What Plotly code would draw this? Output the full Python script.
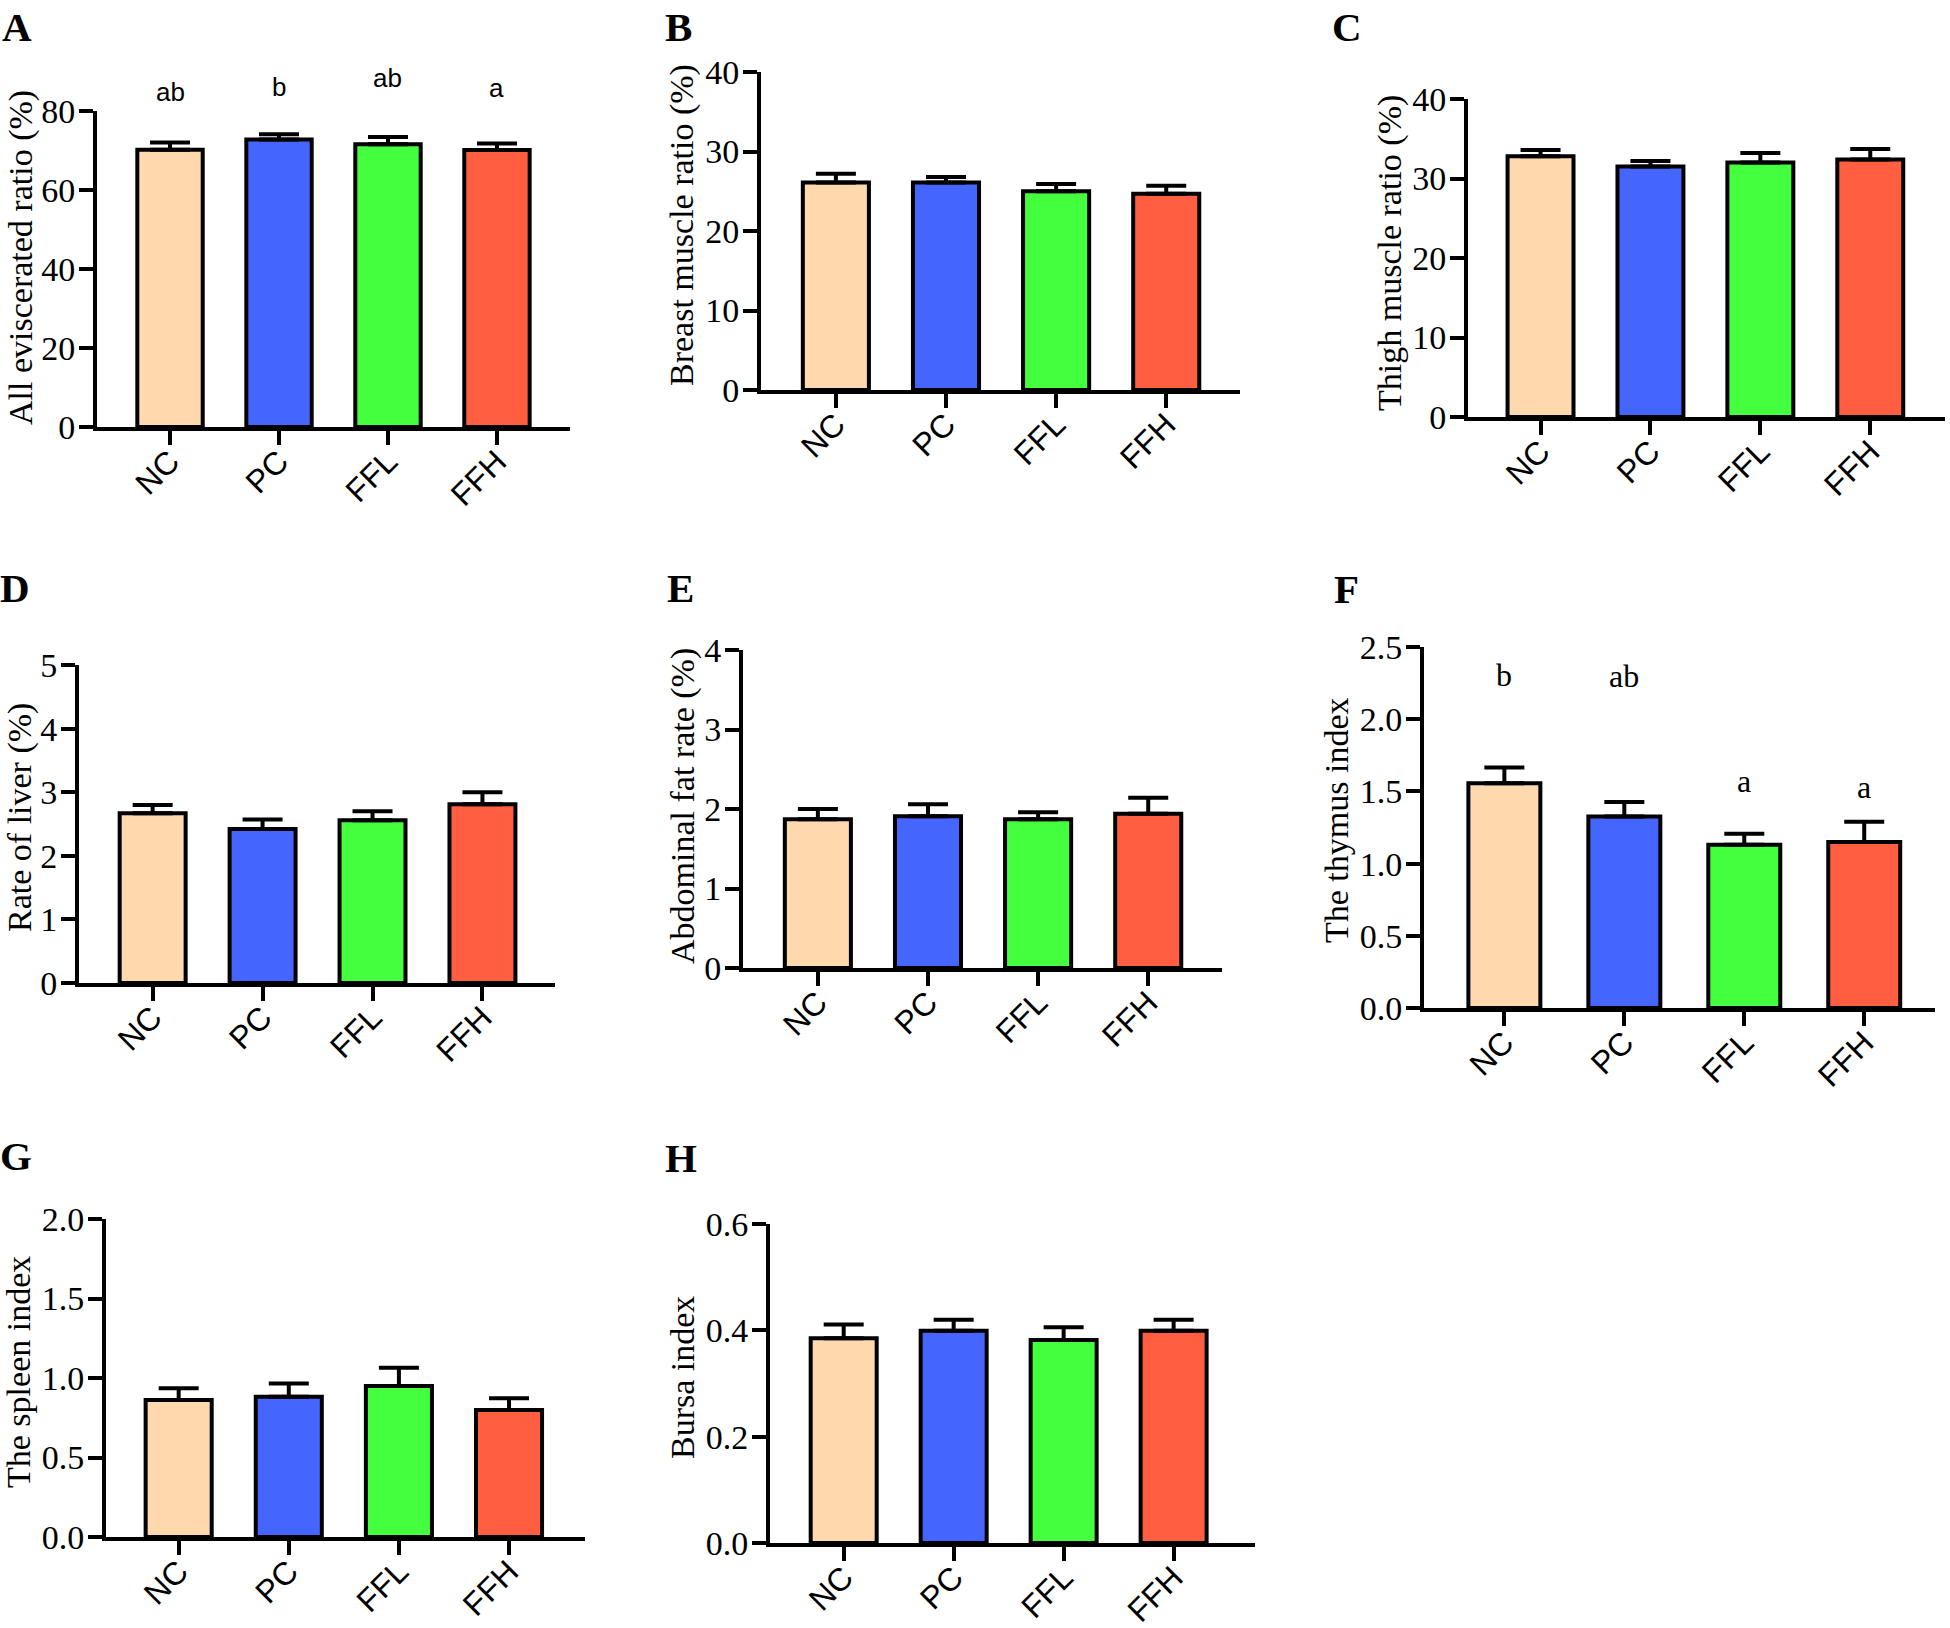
import plotly.graph_objects as go

# ---------------- data ----------------
groups = ["NC", "PC", "FFL", "FFH"]
bar_colors = ["#FED9AE", "#4466FF", "#44FF3E", "#FF5E40"]

eviscerated = [70.2, 72.8, 71.6, 70.1]
eviscerated_se = [1.8, 1.3, 1.8, 1.7]
eviscerated_letters = ["ab", "b", "ab", "a"]
eviscerated_letter_y = [84.8, 86.0, 88.4, 85.8]

breast = [26.1, 26.1, 25.0, 24.7]
breast_se = [1.1, 0.7, 0.9, 1.0]

thigh = [32.8, 31.5, 32.0, 32.4]
thigh_se = [0.8, 0.7, 1.2, 1.3]

liver = [2.67, 2.42, 2.56, 2.81]
liver_se = [0.13, 0.15, 0.14, 0.19]

abdominal_fat = [1.87, 1.91, 1.87, 1.94]
abdominal_fat_se = [0.13, 0.15, 0.09, 0.20]

thymus = [1.556, 1.327, 1.131, 1.149]
thymus_se = [0.11, 0.10, 0.075, 0.14]
thymus_letters = ["b", "ab", "a", "a"]
thymus_letter_y = [2.305, 2.30, 1.57, 1.53]

spleen = [0.861, 0.882, 0.950, 0.798]
spleen_se = [0.074, 0.084, 0.115, 0.074]

bursa = [0.385, 0.399, 0.382, 0.399]
bursa_se = [0.026, 0.021, 0.024, 0.021]

# ---------------- layout ----------------
W, H = 1950, 1628
SERIF = "Liberation Serif, Times New Roman, serif"
SANS = "Liberation Sans, Arial, sans-serif"

panels = [
    dict(tag="A", v=eviscerated, e=eviscerated_se, title="All eviscerated ratio (%)",
         ymax=80, dtick=20, fmt="d", box=(97, 570, 111, 427), xr=(-0.67, 3.67),
         tpos=(21, 258), lpos=(0, 27), letters=eviscerated_letters,
         letter_y=eviscerated_letter_y, lfont=dict(family=SANS, size=26, color="black")),
    dict(tag="B", v=breast, e=breast_se, title="Breast muscle ratio (%)",
         ymax=40, dtick=10, fmt="d", box=(761, 1240, 72, 390), xr=(-0.68, 3.67),
         tpos=(682, 225), lpos=(663, 27)),
    dict(tag="C", v=thigh, e=thigh_se, title="Thigh muscle ratio (%)",
         ymax=40, dtick=10, fmt="d", box=(1468, 1945, 99, 417), xr=(-0.66, 3.68),
         tpos=(1390, 253), lpos=(1330, 27)),
    dict(tag="D", v=liver, e=liver_se, title="Rate of liver (%)",
         ymax=5, dtick=1, fmt="d", box=(79, 555, 665, 983), xr=(-0.67, 3.66),
         tpos=(20, 818), lpos=(-2, 588)),
    dict(tag="E", v=abdominal_fat, e=abdominal_fat_se, title="Abdominal fat rate (%)",
         ymax=4, dtick=1, fmt="d", box=(743, 1222, 650, 968), xr=(-0.68, 3.67),
         tpos=(683, 806), lpos=(665, 588)),
    dict(tag="F", v=thymus, e=thymus_se, title="The thymus index",
         ymax=2.5, dtick=0.5, fmt=".1f", box=(1424, 1935, 647, 1008), xr=(-0.67, 3.59),
         tpos=(1336, 820), lpos=(1332, 589), letters=thymus_letters,
         letter_y=thymus_letter_y, lfont=dict(family=SERIF, size=32, color="black")),
    dict(tag="G", v=spleen, e=spleen_se, title="The spleen index",
         ymax=2.0, dtick=0.5, fmt=".1f", box=(106, 585, 1219, 1537), xr=(-0.66, 3.69),
         tpos=(18, 1372), lpos=(-2, 1156)),
    dict(tag="H", v=bursa, e=bursa_se, title="Bursa index",
         ymax=0.6, dtick=0.2, fmt=".1f", box=(770, 1255, 1224, 1543), xr=(-0.67, 3.74),
         tpos=(682, 1378), lpos=(663, 1158)),
]

fig = go.Figure()
layout = dict(
    template="none",
    width=W, height=H,
    margin=dict(l=0, r=0, t=0, b=0, pad=0, autoexpand=False),
    paper_bgcolor="white", plot_bgcolor="white",
    showlegend=False,
)
annotations = []

LW = 4
for i, p in enumerate(panels):
    n = "" if i == 0 else str(i + 1)
    xa, ya = "x" + n, "y" + n
    left, right, top, bottom = p["box"]
    fig.add_trace(go.Bar(
        x=groups, y=p["v"], xaxis=xa, yaxis=ya, width=0.6,
        marker=dict(color=bar_colors, line=dict(color="black", width=LW)),
        error_y=dict(type="data", array=p["e"], arrayminus=[0] * len(groups),
                     symmetric=False, color="black", thickness=LW, width=20),
        hoverinfo="skip",
    ))
    layout["xaxis" + n] = dict(
        domain=[left / W, right / W], anchor=ya, type="category", automargin=False,
        range=list(p["xr"]), showline=True, linecolor="black", linewidth=LW,
        ticks="outside", ticklen=14, tickwidth=LW, tickcolor="black",
        tickangle=-45, showgrid=False, zeroline=False, ticklabelstandoff=-15,
        tickfont=dict(family=SANS, size=32, color="black"),
    )
    layout["yaxis" + n] = dict(
        domain=[1 - bottom / H, 1 - top / H], anchor=xa, automargin=False,
        range=[0, p["ymax"]], dtick=p["dtick"], tick0=0, tickformat=p["fmt"],
        showline=True, linecolor="black", linewidth=LW,
        ticks="outside", ticklen=14, tickwidth=LW, tickcolor="black",
        showgrid=False, zeroline=False, ticklabelstandoff=-3,
        tickfont=dict(family=SERIF, size=34, color="black"),
    )
    annotations.append(dict(
        text=p["title"], xref="paper", yref="paper",
        x=p["tpos"][0] / W, y=1 - p["tpos"][1] / H, xanchor="center", yanchor="middle",
        textangle=-90, showarrow=False, font=dict(family=SERIF, size=34, color="black"),
    ))
    annotations.append(dict(
        text="<b>%s</b>" % p["tag"], xref="paper", yref="paper",
        x=p["lpos"][0] / W, y=1 - p["lpos"][1] / H, xanchor="left", yanchor="middle",
        showarrow=False, font=dict(family=SERIF, size=41, color="black"),
    ))
    if "letters" in p:
        for g, lt, ly in zip(groups, p["letters"], p["letter_y"]):
            annotations.append(dict(
                text=lt, xref=xa, yref=ya + " domain", x=g, y=ly / p["ymax"],
                xanchor="center", yanchor="middle", showarrow=False, font=p["lfont"],
            ))

layout["annotations"] = annotations
fig.update_layout(**layout)
fig.write_html("out.html", config={"displayModeBar": False, "staticPlot": True},
               post_script="document.body.style.margin='0';")
